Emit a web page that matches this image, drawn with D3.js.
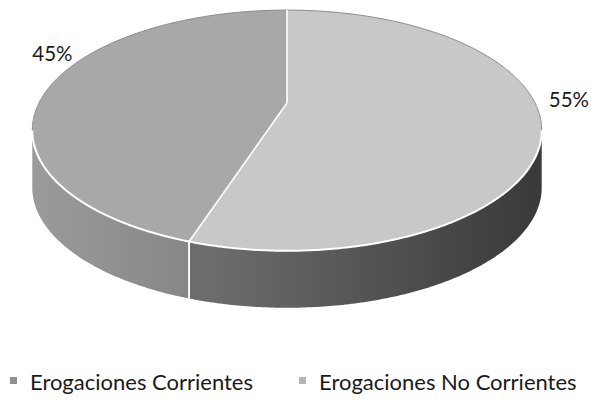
<!DOCTYPE html>
<html>
<head>
<meta charset="utf-8">
<script src="https://cdn.jsdelivr.net/npm/d3@7"></script>
<style>
  html, body { margin: 0; padding: 0; background: #ffffff; }
  svg { display: block; }
  text { font-family: Lato, "Open Sans", sans-serif; fill: #1a1a1a; }
</style>
</head>
<body>
<svg id="chart" width="593" height="405"></svg>
<script>
// ---- data ----
const categories = ["Erogaciones Corrientes", "Erogaciones No Corrientes"];
const values = [45, 55];
const valueLabels = ["45%", "55%"];

// ---- style ----
const topColors = ["#a8a8a8", "#c8c8c8"];
const sideColorsLight = ["#9a9a9a", "#6c6c6c"];
const sideColorsDark = ["#848484", "#3a3a3a"];
const legendColors = ["#8f8f8f", "#b4b4b4"];

const svg = d3.select("#chart");

// ---- perspective projection of a tilted disc ----
const cx = 287, cy0 = 103;      // projected centre of the top face
const halfWidth = 248;          // projected radius at the centre line
const q = 0.228;                // perspective strength
const sinT = 0.46, cosT = Math.sqrt(1 - sinT * sinT);
const Dist = cosT / q, Focal = halfWidth * Dist;
const depthPx = 57;             // thickness of the pie in pixels

function proj(r, a, lift = 0) {
  const x3 = r * Math.sin(a), z3 = -r * Math.cos(a), y3 = lift;
  const depth = Dist - (y3 * sinT + z3 * cosT);
  return [cx + x3 * Focal / depth, cy0 - (y3 * cosT - z3 * sinT) * Focal / depth];
}

const pie = d3.pie().sort(null)
  .startAngle(2 * Math.PI * values[1] / d3.sum(values))
  .endAngle(2 * Math.PI * values[1] / d3.sum(values) + 2 * Math.PI);
const arcs = pie(values);

const line = d3.line();
function rimPts(a0, a1, dy = 0) {
  const n = Math.max(2, Math.ceil(Math.abs(a1 - a0) / 0.01));
  return d3.range(n + 1).map(i => {
    const p = proj(1, a0 + (a1 - a0) * i / n);
    return [p[0], p[1] + dy];
  });
}

// visible front part of the side
const visStart = Math.acos(-q), visEnd = 2 * Math.PI - Math.acos(-q);

const defs = svg.append("defs");
arcs.forEach((d, i) => {
  const g = defs.append("linearGradient")
    .attr("id", "side" + i).attr("gradientUnits", "userSpaceOnUse")
    .attr("x1", cx - halfWidth).attr("x2", cx + halfWidth).attr("y1", 0).attr("y2", 0);
  if (i === 0) {
    g.append("stop").attr("offset", 0).attr("stop-color", sideColorsLight[i]);
    g.append("stop").attr("offset", 0.35).attr("stop-color", sideColorsDark[i]);
  } else {
    g.append("stop").attr("offset", 0.35).attr("stop-color", sideColorsLight[i]);
    g.append("stop").attr("offset", 1).attr("stop-color", sideColorsDark[i]);
  }
});

const sideG = svg.append("g");
arcs.forEach((d, i) => {
  [0, 2 * Math.PI].forEach(off => {
    const a0 = Math.max(d.startAngle, visStart + off);
    const a1 = Math.min(d.endAngle, visEnd + off);
    if (a1 <= a0) return;
    const top = rimPts(a0, a1, 0);
    const bot = rimPts(a0, a1, depthPx).reverse();
    sideG.append("path")
      .attr("d", line(top.concat(bot)) + "Z")
      .attr("fill", `url(#side${i})`);
  });
});

// side divider lines (white)
arcs.forEach(d => {
  [d.startAngle, d.endAngle].forEach(a => {
    const an = ((a % (2 * Math.PI)) + 2 * Math.PI) % (2 * Math.PI);
    if (an > visStart && an < visEnd) {
      const p = proj(1, an);
      sideG.append("line")
        .attr("x1", p[0]).attr("y1", p[1]).attr("x2", p[0]).attr("y2", p[1] + depthPx)
        .attr("stroke", "#ffffff").attr("stroke-width", 1.6);
    }
  });
});

// top faces
const topG = svg.append("g");
arcs.forEach((d, i) => {
  const pts = [proj(0, 0)].concat(rimPts(d.startAngle, d.endAngle));
  topG.append("path")
    .attr("d", line(pts) + "Z")
    .attr("fill", topColors[i])
    .attr("stroke", "none");
});
// faint darker outline on the back rim
topG.append("path")
  .attr("d", line(rimPts(visEnd - 2 * Math.PI, visStart)))
  .attr("fill", "none").attr("stroke", "#8a8a8a").attr("stroke-width", 1);
// white slice borders on top
arcs.forEach(d => {
  const c = proj(0, 0), p = proj(1, d.startAngle);
  topG.append("line")
    .attr("x1", c[0]).attr("y1", c[1]).attr("x2", p[0]).attr("y2", p[1])
    .attr("stroke", "#ffffff").attr("stroke-width", 1.6);
});
// white front rim edge
topG.append("path")
  .attr("d", line(rimPts(visStart, visEnd)))
  .attr("fill", "none").attr("stroke", "#ffffff").attr("stroke-width", 2);

// value labels
arcs.forEach((d, i) => {
  const mid = (d.startAngle + d.endAngle) / 2;
  const p = proj(1.0, mid, 0.15);
  const right = Math.sin(mid) > 0;
  svg.append("text")
    .attr("x", right ? p[0] + 3 : p[0] + 6)
    .attr("y", right ? p[1] + 12 : p[1])
    .attr("text-anchor", right ? "start" : "middle")
    .attr("dominant-baseline", "central")
    .attr("font-size", 20.5)
    .text(valueLabels[i]);
});

// legend
const legend = svg.append("g").attr("transform", "translate(0,381)");
let lx = 10;
categories.forEach((c, i) => {
  legend.append("rect").attr("x", lx).attr("y", -4).attr("width", 7).attr("height", 7)
    .attr("fill", legendColors[i]);
  const t = legend.append("text").attr("x", lx + 20).attr("y", 0)
    .attr("dominant-baseline", "central").attr("font-size", 22).text(c);
  lx = lx + 20 + t.node().getComputedTextLength() + 46;
});
</script>
</body>
</html>
